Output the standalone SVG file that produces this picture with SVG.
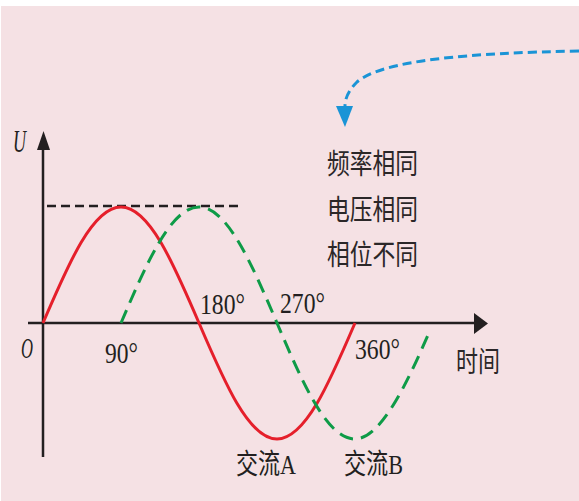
<svg xmlns="http://www.w3.org/2000/svg" width="579" height="501" viewBox="0 0 579 501">
<style>
.ax{stroke:#231f20;stroke-width:2.5;fill:none}
.lbl{font-family:"Liberation Serif","Noto Sans CJK SC",serif;fill:#231f20}
.it{font-style:italic}
.cjk{font-family:"Noto Sans CJK SC","Liberation Serif",sans-serif;fill:#2b2728}
</style>
<rect x="0" y="0" width="579" height="501" fill="#ffffff"/>
<rect x="1" y="6" width="578" height="495" fill="#f5e1e4"/>
<g id="connectors">
<path id="blue-arrow" d="M579,51 C470,53 382,60 357,82 C349,90 345,98 345,106" fill="none" stroke="#1a94d6" stroke-width="3" stroke-dasharray="9,5"/>
<polygon points="336,106 353,106 345,127" fill="#1a94d6"/>
</g>
<g id="axes">
<line class="ax" x1="43" y1="457" x2="43" y2="148"/>
<polygon points="37,150 50,150 43.5,131" fill="#231f20"/>
<line class="ax" x1="28" y1="323" x2="476" y2="323"/>
<polygon points="474,313 474,334 488,323.5" fill="#231f20"/>
<line x1="47" y1="206" x2="240" y2="206" stroke="#231f20" stroke-width="2.6" stroke-dasharray="9,5"/>
</g>
<g id="curve-a">
<path d="M43,323 C68.44,263.57 92.78,207 121,207 C149.22,207 173.56,263.57 199,323 C224.44,382.43 248.78,439 277,439 C305.22,439 329.56,382.43 355,323" fill="none" stroke="#e51f2b" stroke-width="3"/>
</g>
<g id="curve-b">
<path d="M121,323 C146.44,263.57 170.78,207 199,207 C227.22,207 251.56,263.57 277,323 C302.44,382.43 326.78,439 355,439 C381,439 408,381 428,335" fill="none" stroke="#0e9b47" stroke-width="3" stroke-dasharray="14,8"/>
</g>
<g id="labels">
<text class="lbl it" x="13" y="152" font-size="31" textLength="13" lengthAdjust="spacingAndGlyphs">U</text>
<text class="lbl it" x="21" y="358" font-size="29" textLength="12" lengthAdjust="spacingAndGlyphs">O</text>
<text class="lbl" x="105" y="363" font-size="29" textLength="33" lengthAdjust="spacingAndGlyphs">90°</text>
<text class="lbl" x="200" y="314" font-size="29" textLength="45" lengthAdjust="spacingAndGlyphs">180°</text>
<text class="lbl" x="280" y="313" font-size="29" textLength="45" lengthAdjust="spacingAndGlyphs">270°</text>
<text class="lbl" x="355" y="359" font-size="29" textLength="45" lengthAdjust="spacingAndGlyphs">360°</text>
<text class="cjk" x="456" y="372" font-size="28" textLength="44" lengthAdjust="spacingAndGlyphs">时间</text>
<text class="lbl" x="236" y="474" font-size="28" textLength="60" lengthAdjust="spacingAndGlyphs">交流A</text>
<text class="lbl" x="344" y="474" font-size="28" textLength="59" lengthAdjust="spacingAndGlyphs">交流B</text>
</g>
<g id="notes">
<text class="cjk" x="327" y="174" font-size="28" textLength="91" lengthAdjust="spacingAndGlyphs">频率相同</text>
<text class="cjk" x="327" y="220" font-size="28" textLength="91" lengthAdjust="spacingAndGlyphs">电压相同</text>
<text class="cjk" x="327" y="265" font-size="28" textLength="91" lengthAdjust="spacingAndGlyphs">相位不同</text>
</g>
</svg>
